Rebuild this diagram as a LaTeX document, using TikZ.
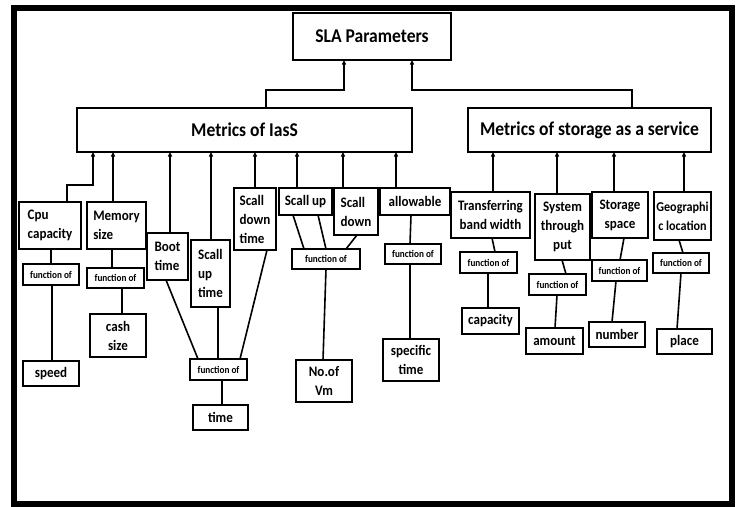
\documentclass[tikz,border=0pt]{standalone}
\usepackage{fontspec}
\setmainfont{Carlito}[FakeStretch=0.9]
\usetikzlibrary{arrows.meta}

% box given by its corners (x1,y1) and (x2,y2), in pixel-like units
\newcommand\slabox[7][]{%
  \node[box,#1,minimum width={(#5-#3)*1pt},minimum height={(#6-#4)*1pt}]
    (#2) at ({(#3+#5)/2},{(#4+#6)/2}) {#7};}
% arrow from a child box straight up to its parent at height x
\newcommand\uparr[3]{\draw[arr] (#1.north -| #2,0) -- (#3.south -| #2,0);}
% plain connector from the bottom of one box to the top of another
\newcommand\link[4]{\draw[con] (#1.south -| #2,0) -- (#3.north -| #4,0);}

\begin{document}
\begin{tikzpicture}[x=1pt,y=-1pt,
  box/.style={draw,line width=1.8pt,inner sep=0pt,outer sep=0pt,align=center,
    font=\bfseries\fontsize{14.5}{19}\selectfont},
  big/.style={font=\bfseries\fontsize{19.5}{22}\selectfont},
  fn/.style={font=\bfseries\fontsize{10.2}{12}\selectfont},
  small/.style={font=\bfseries\fontsize{13.5}{19}\selectfont},
  lft/.style={align=left},
  con/.style={line width=1.6pt},
  arr/.style={con,-{Triangle[length=4.5pt,width=4pt]}}]
\useasboundingbox (0,0) rectangle (738,506);
% outer frame
\draw[line width=6pt] (14,8) rectangle (732,504);

% top level
\slabox[big]{sla}{293}{13}{451}{60}{SLA Parameters}
\slabox[big]{iaas}{77}{108}{412}{152}{Metrics of IasS}
\slabox[big]{saas}{468}{108}{711}{152}{Metrics of storage as a service}

% IaaS metrics
\slabox[lft]{cpu}{19}{202}{81}{249}{Cpu\\capacity}
\slabox[lft]{mem}{87}{202}{146}{249}{Memory\\size}
\slabox[lft]{boot}{147}{233}{188}{280}{Boot\\time}
\slabox[lft]{sut}{191}{240}{230}{307}{Scall\\up\\time}
\slabox[lft]{sdt}{234}{188}{276}{250}{Scall\\down\\time}
\slabox{su}{279}{188}{332}{215}{Scall up}
\slabox[lft]{sd}{334}{188}{378}{235}{Scall\\down}
\slabox{alw}{380}{188}{450}{215}{allowable}

\slabox[fn]{fcpu}{23}{264}{79}{285}{function of}
\slabox[fn]{fmem}{87}{268}{144}{288}{function of}
\slabox[fn]{ftime}{190}{359}{247}{380}{function of}
\slabox[fn]{fvm}{292}{249}{360}{269}{function of}
\slabox[fn]{falw}{385}{244}{441}{264}{function of}

\slabox{speed}{23}{361}{79}{386}{speed}
\slabox{cash}{90}{314}{146}{357}{cash\\size}
\slabox{time}{193}{405}{248}{430}{time}
\slabox{vm}{296}{360}{352}{402}{No.of\\Vm}
\slabox{spec}{383}{339}{439}{381}{specific\\time}

% storage metrics
\slabox{tbw}{451}{192}{530}{238}{Transferring\\band width}
\slabox{stp}{535}{194}{590}{260}{System\\through\\put}
\slabox{ssp}{592}{192}{648}{238}{Storage\\space}
\slabox[small]{geo}{654}{192}{711}{240}{Geographi\\c location}

\slabox[fn]{ftbw}{460}{252}{517}{273}{function of}
\slabox[fn]{fstp}{529}{274}{586}{295}{function of}
\slabox[fn]{fssp}{592}{260}{647}{281}{function of}
\slabox[fn]{fgeo}{653}{253}{709}{273}{function of}

\slabox{cap}{462}{308}{519}{334}{capacity}
\slabox{amt}{526}{328}{583}{354}{amount}
\slabox{num}{589}{322}{645}{347}{number}
\slabox{place}{657}{329}{712}{354}{place}

% arrows up to the root
\draw[arr] (iaas.north -| 266,0) |- (305,90) -| (sla.south -| 344,0);
\draw[arr] (saas.north -| 632,0) |- (500,90) -| (sla.south -| 412,0);

% arrows up to the IaaS box
\draw[arr] (cpu.north -| 67,0) |- (80,185) -| (iaas.south -| 93,0);
\uparr{mem}{113}{iaas}
\uparr{boot}{170}{iaas}
\uparr{sut}{211}{iaas}
\uparr{sdt}{255}{iaas}
\uparr{su}{297}{iaas}
\uparr{sd}{343}{iaas}
\uparr{alw}{396}{iaas}

% arrows up to the storage box
\uparr{tbw}{493}{saas}
\uparr{stp}{557}{saas}
\uparr{ssp}{614}{saas}
\uparr{geo}{684}{saas}

% function-of links
\link{cpu}{51}{fcpu}{51}
\link{fcpu}{52}{speed}{52}
\link{mem}{112}{fmem}{112}
\link{fmem}{122}{cash}{122}
\link{boot}{166}{ftime}{198}
\link{sut}{218}{ftime}{218}
\link{sdt}{267}{ftime}{240}
\link{ftime}{222}{time}{222}
\link{su}{293}{fvm}{304}
\link{su}{318}{fvm}{326}
\link{sd}{357}{fvm}{346}
\link{fvm}{326}{vm}{323}
\link{alw}{411}{falw}{410}
\link{falw}{410}{spec}{410}

\link{tbw}{492}{ftbw}{495}
\link{ftbw}{488}{cap}{488}
\link{stp}{562}{fstp}{566}
\link{fstp}{557}{amt}{555}
\link{ssp}{624}{fssp}{620}
\link{fssp}{616}{num}{612}
\link{geo}{679}{fgeo}{683}
\link{fgeo}{681}{place}{677}
\end{tikzpicture}
\end{document}
